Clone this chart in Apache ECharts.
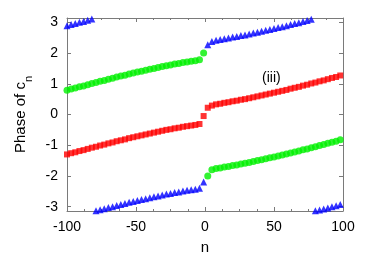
<!DOCTYPE html>
<html><head><meta charset="utf-8">
<script src="https://cdn.jsdelivr.net/npm/echarts@6/dist/echarts.min.js"></script>
<style>html,body{margin:0;padding:0;background:#fff}#c{width:374px;height:262px}</style>
</head><body><div id="c"></div>
<script>
const nValues = [-100,-97,-94,-91,-88,-85,-82,-79,-76,-73,-70,-67,-64,-61,-58,-55,-52,-49,-46,-43,-40,-37,-34,-31,-28,-25,-22,-19,-16,-13,-10,-7,-4,-1,2,5,8,11,14,17,20,23,26,29,32,35,38,41,44,47,50,53,56,59,62,65,68,71,74,77,80,83,86,89,92,95,98];
const redPhase = [-1.30,-1.26,-1.23,-1.19,-1.16,-1.12,-1.08,-1.05,-1.01,-0.98,-0.94,-0.91,-0.87,-0.84,-0.81,-0.77,-0.74,-0.71,-0.68,-0.65,-0.62,-0.59,-0.56,-0.53,-0.50,-0.48,-0.45,-0.43,-0.40,-0.38,-0.36,-0.34,-0.31,-0.05,0.22,0.29,0.33,0.35,0.38,0.40,0.43,0.45,0.48,0.50,0.53,0.56,0.59,0.62,0.65,0.68,0.71,0.74,0.77,0.80,0.84,0.87,0.90,0.94,0.97,1.01,1.04,1.08,1.11,1.15,1.19,1.22,1.27];
const greenPhase = [0.79,0.83,0.86,0.90,0.93,0.97,1.01,1.04,1.08,1.11,1.15,1.18,1.22,1.25,1.28,1.32,1.35,1.38,1.41,1.44,1.47,1.50,1.53,1.56,1.59,1.61,1.64,1.66,1.69,1.71,1.73,1.75,1.78,2.00,-2.00,-1.80,-1.76,-1.74,-1.71,-1.69,-1.66,-1.64,-1.61,-1.59,-1.56,-1.53,-1.50,-1.47,-1.44,-1.41,-1.38,-1.35,-1.32,-1.29,-1.25,-1.22,-1.19,-1.15,-1.12,-1.08,-1.05,-1.01,-0.98,-0.94,-0.90,-0.87,-0.82];
const bluePhase = [2.89,2.93,2.96,3.00,3.03,3.07,3.11,-3.13,-3.10,-3.07,-3.03,-3.00,-2.96,-2.93,-2.90,-2.86,-2.83,-2.80,-2.77,-2.74,-2.71,-2.68,-2.65,-2.62,-2.59,-2.57,-2.54,-2.52,-2.49,-2.47,-2.45,-2.43,-2.40,-2.20,2.27,2.38,2.42,2.44,2.47,2.49,2.52,2.54,2.57,2.59,2.62,2.65,2.68,2.71,2.74,2.77,2.80,2.83,2.86,2.89,2.93,2.96,2.99,3.03,3.06,3.10,-3.13,-3.11,-3.08,-3.04,-3.00,-2.97,-2.93];
const yTicks = [-3,-2,-1,0,1,2,3];
const xTickLabels = [-100,-50,0,50,100];

const pairs = arr => nValues.map((n,i)=>[n,arr[i]]);
const FONT = 'Liberation Sans';
const axisGray = '#7a7a7a';
const chart = echarts.init(document.getElementById('c'), null, {renderer:'canvas'});
const xCommon = {type:'value', min:-100, max:100, interval:50,
  axisLine:{show:true, onZero:false, lineStyle:{color:axisGray, width:1}},
  axisTick:{show:true, inside:true, length:4, lineStyle:{color:axisGray}},
  minorTick:{show:true, splitNumber:4, length:2, lineStyle:{color:axisGray}},
  splitLine:{show:false}};
const yCommon = {type:'value', min:-Math.PI, max:Math.PI,
  axisLine:{show:true, onZero:false, lineStyle:{color:axisGray, width:1}},
  axisTick:{show:true, inside:true, length:4, customValues:yTicks, lineStyle:{color:axisGray}},
  splitLine:{show:false}};
chart.setOption({
  animation:false,
  grid:{left:67, right:31, top:18, bottom:51, containLabel:false},
  xAxis:[
    Object.assign({}, xCommon, {position:'bottom',
      name:'n', nameLocation:'middle', nameGap:29,
      nameTextStyle:{fontFamily:FONT, fontSize:15, color:'#000'},
      axisLabel:{show:true, margin:9, fontFamily:FONT, fontSize:14, color:'#000',
        customValues:xTickLabels, formatter:v=>String(v)}}),
    Object.assign({}, xCommon, {position:'top', axisLabel:{show:false}})
  ],
  yAxis:[
    Object.assign({}, yCommon, {position:'left',
      name:'Phase of c{s|n}', nameLocation:'middle', nameGap:36, nameRotate:90,
      nameTextStyle:{fontFamily:FONT, fontSize:15, color:'#000',
        rich:{s:{fontFamily:FONT, fontSize:11, color:'#000', verticalAlign:'bottom', padding:[0,0,-6,0]}}},
      axisLabel:{show:true, margin:9, fontFamily:FONT, fontSize:14, color:'#000',
        customValues:yTicks, formatter:v=>String(v)}}),
    Object.assign({}, yCommon, {position:'right', axisLabel:{show:false}})
  ],
  series:[
    {type:'scatter', xAxisIndex:0, yAxisIndex:0, data:pairs(redPhase), symbol:'rect', symbolSize:6,
      itemStyle:{color:'#ff0000'}, clip:true},
    {type:'scatter', xAxisIndex:0, yAxisIndex:0, data:pairs(greenPhase), symbol:'circle', symbolSize:7,
      itemStyle:{color:'#00f000'}, clip:true},
    {type:'scatter', xAxisIndex:0, yAxisIndex:0, data:pairs(bluePhase), symbol:'triangle', symbolSize:7,
      itemStyle:{color:'#0000ff'}, clip:true}
  ],
  graphic:[{type:'text', left:262, top:71, style:{text:'(iii)', fontFamily:FONT, fontSize:14, fill:'#000'}}]
});
</script></body></html>
